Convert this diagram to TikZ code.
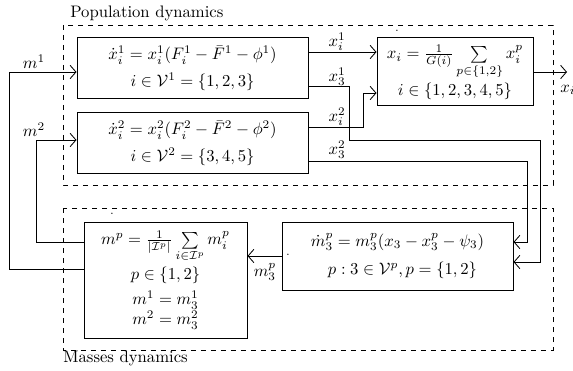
\documentclass[tikz,border=0pt]{standalone}
\usepackage{amsmath,amssymb}
\usetikzlibrary{arrows.meta}
\begin{document}
\begin{tikzpicture}[x=0.6pt,y=-0.6pt,
  box/.style={draw, line width=0.6pt, inner sep=0pt, align=center},
  grp/.style={draw, dashed, line width=0.5pt},
  arr/.style={-{Straight Barb[length=3.5pt,width=8pt,line width=0.5pt]}, line width=0.5pt},
  lbl/.style={inner sep=0pt},
  dotm/.style={inner sep=0pt, font=\scriptsize}]
\useasboundingbox (0,0) rectangle (573,371);
% group frames
\draw[grp] (63,25) rectangle (553,185);
\draw[grp] (63,208) rectangle (553,350);
\node[lbl, anchor=west] (tpop) at (70,13) {Population dynamics};
\node[lbl, anchor=west] (tmass) at (63,358) {Masses dynamics};
% boxes
\node[box, minimum width=138.6pt, minimum height=36.6pt] (box1) at (192.5,68.5)
  {$\dot{x}^1_i = x^1_i(F^1_i - \bar{F}^1 - \phi^1)$\\[4pt] $i\in\mathcal{V}^1=\{1,2,3\}$};
\node[box, minimum width=138.6pt, minimum height=36.6pt] (box2) at (192.5,143.5)
  {$\dot{x}^2_i = x^2_i(F^2_i - \bar{F}^2 - \phi^2)$\\[4pt] $i\in\mathcal{V}^2=\{3,4,5\}$};
\node[box, minimum width=93.6pt, minimum height=40.8pt] (box3) at (455,72)
  {$x_i = \frac{1}{G(i)}\sum\limits_{p\in\{1,2\}} x^p_i$\\[1pt] $i\in\{1,2,3,4,5\}$};
\node[box, minimum width=97.8pt, minimum height=69.6pt] (box4) at (165.5,280)
  {$m^p = \frac{1}{|\mathcal{I}^p|}\sum\limits_{i\in\mathcal{I}^p} m^p_i$\\[2pt] $p\in\{1,2\}$\\[3pt] $m^1=m^1_3$\\ $m^2=m^2_3$};
\node[box, minimum width=138.6pt, minimum height=40.8pt] (box5) at (397.5,256)
  {$\dot{m}^p_3 = m^p_3(x_3 - x^p_3 - \psi_3)$\\[5pt] \hspace*{6pt}$p : 3\in\mathcal{V}^p, p=\{1,2\}$};
% small dots
\node[dotm] (d1) at (397,31) {.};
\node[dotm] (d2) at (112,214) {.};
\node[dotm] (d3) at (288,255) {.};
% bend coordinates
\coordinate (k1) at (9,269);   \coordinate (k2) at (9,72);
\coordinate (k3) at (36,242);  \coordinate (k4) at (36,140);
\coordinate (k5) at (340,52);
\coordinate (k6) at (349,86);  \coordinate (k7) at (349,140);
\coordinate (k8) at (540,140); \coordinate (k9) at (540,262);
\coordinate (k10) at (363,127); \coordinate (k11) at (363,93);
\coordinate (k12) at (527,161); \coordinate (k13) at (527,242);
\coordinate (k14) at (265,256);
\coordinate (k15) at (567,72);
% connectors
\draw[arr] (box4.west |- k1) -- (k1) -- (k2) -- (box1.west |- k2);
\draw[arr] (box4.west |- k3) -- (k3) -- (k4) -- (box2.west |- k4);
\draw[arr] (box1.east |- k5) -- (box3.west |- k5);
\draw[arr] (box1.east |- k6) -- (k6) -- (k7) -- (k8) -- (k9) -- (box5.east |- k9);
\draw[arr] (box2.east |- k10) -- (k10) -- (k11) -- (box3.west |- k11);
\draw[arr] (box2.east |- k12) -- (k12) -- (k13) -- (box5.east |- k13);
\draw[arr] (box5.west |- k14) -- (box4.east |- k14);
\draw[arr] (box3.east |- k15) -- (k15);
% labels
\node[lbl] (lm1) at (34,62) {$m^1$};
\node[lbl] (lm2) at (34,130) {$m^2$};
\node[lbl] (lx11) at (337,42) {$x^1_i$};
\node[lbl] (lx31) at (337,77) {$x^1_3$};
\node[lbl] (lx12) at (337,117) {$x^2_i$};
\node[lbl] (lx32) at (337,150) {$x^2_3$};
\node[lbl] (lm3p) at (265,272) {$m^p_3$};
\node[lbl, anchor=west] (lxo) at (560,90) {$x_i$};
\end{tikzpicture}
\end{document}
